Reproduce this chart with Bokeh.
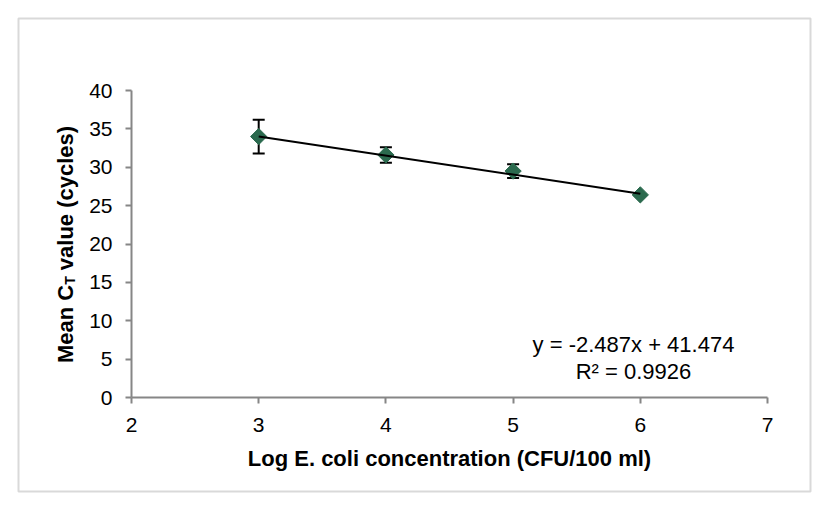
import math
from bokeh.plotting import figure
from bokeh.models import (ColumnDataSource, Range1d, FixedTicker, Whisker, TeeHead,
                          Label, BoxAnnotation)
from bokeh.embed import file_html
from bokeh.resources import INLINE

# Standard curve data: log concentration vs mean CT with standard deviation
log_conc = [3, 4, 5, 6]
mean_ct = [34.0, 31.6, 29.5, 26.4]
sd_ct = [2.2, 1.0, 0.9, 0.1]

# Linear trendline reported for the curve
slope = -2.487
intercept = 41.474
r_squared = 0.9926

x_ticks = [2, 3, 4, 5, 6, 7]
y_ticks = [0, 5, 10, 15, 20, 25, 30, 35, 40]

FONT = "Liberation Sans"
AXIS_GREY = "#868686"
MARKER_GREEN = "#2B6A4E"

W, H = 820, 512
# Pixel geometry of the plotting area inside the canvas
X0_PX, X1_PX = 131, 767      # x = 2 .. 7
Y0_PX, Y1_PX = 397, 90       # y = 0 .. 40
px_per_x = (X1_PX - X0_PX) / (x_ticks[-1] - x_ticks[0])
px_per_y = (Y0_PX - Y1_PX) / (y_ticks[-1] - y_ticks[0])


def dx(px):
    return x_ticks[0] + (px - X0_PX) / px_per_x


def dy(py):
    return y_ticks[0] + (Y0_PX - py) / px_per_y


src = ColumnDataSource(data=dict(
    x=log_conc,
    y=mean_ct,
    upper=[m + s for m, s in zip(mean_ct, sd_ct)],
    lower=[m - s for m, s in zip(mean_ct, sd_ct)],
))

# The frame spans the whole canvas; axes are pinned at x=2 and y=0
p = figure(width=W, height=H, output_backend="svg", toolbar_location=None,
           x_range=Range1d(dx(0), dx(W)), y_range=Range1d(dy(H), dy(0)),
           min_border=0)
p.outline_line_color = None
p.background_fill_color = "white"
p.border_fill_color = "white"
p.xgrid.visible = False
p.ygrid.visible = False

for ax in (p.xaxis[0], p.yaxis[0]):
    ax.axis_line_color = AXIS_GREY
    ax.axis_line_width = 2
    ax.major_tick_line_color = AXIS_GREY
    ax.major_tick_line_width = 2
    ax.major_tick_in = 0
    ax.major_tick_out = 6
    ax.minor_tick_line_color = None
    ax.major_label_text_font = FONT
    ax.major_label_text_font_size = "21px"
    ax.major_label_text_color = "black"

p.xaxis.fixed_location = y_ticks[0]
p.yaxis.fixed_location = x_ticks[0]
p.xaxis.bounds = (x_ticks[0], x_ticks[-1])
p.yaxis.bounds = (y_ticks[0], y_ticks[-1])
p.xaxis.ticker = FixedTicker(ticks=x_ticks)
p.yaxis.ticker = FixedTicker(ticks=y_ticks)
p.xaxis.major_label_standoff = 14
p.yaxis.major_label_standoff = 13

# Error bars
whisk = Whisker(source=src, base="x", upper="upper", lower="lower",
                line_color="black", line_width=2,
                upper_head=TeeHead(size=12, line_color="black", line_width=2),
                lower_head=TeeHead(size=12, line_color="black", line_width=2))
p.add_layout(whisk)

# Data points (square turned 45 degrees)
p.scatter("x", "y", source=src, marker="square", angle=math.pi / 4, size=11.5,
          fill_color=MARKER_GREEN, line_color=MARKER_GREEN)

# Trendline over the measured span
tx = [log_conc[0], log_conc[-1]]
ty = [slope * v + intercept for v in tx]
p.line(tx, ty, line_color="black", line_width=2)

# Trendline equation and R²
sign = "+" if intercept >= 0 else "-"
eq_text = f"y = {slope:.3f}x {sign} {abs(intercept):.3f}"
r2_text = f"R² = {r_squared:.4f}"
p.add_layout(Label(x=dx(633), y=dy(344), text=eq_text, text_align="center",
                   text_baseline="alphabetic", text_font=FONT,
                   text_font_size="22px", text_color="black"))
p.add_layout(Label(x=dx(633), y=dy(371), text=r2_text, text_align="center",
                   text_baseline="alphabetic", text_font=FONT,
                   text_font_size="22px", text_color="black"))

# X-axis title
p.add_layout(Label(x=dx(449), y=dy(458), text="Log E. coli concentration (CFU/100 ml)",
                   text_align="center", text_baseline="alphabetic", text_font=FONT,
                   text_font_style="bold", text_font_size="22px", text_color="black"))

# Rotated y-axis title with subscript T
fs = 22
w_main = 3.556 * fs
w_sub = 0.611 * 14
w_space = 0.278 * fs
w_rest = 6.559 * fs
total = w_main + w_sub + w_space + w_rest
start_sy = 244 + total / 2
lab_kw = dict(angle=math.pi / 2, text_baseline="alphabetic", text_align="left",
              text_font=FONT, text_font_style="bold", text_color="black")
p.add_layout(Label(x=dx(65), y=dy(start_sy), text="Mean C",
                   text_font_size=f"{fs}px", **lab_kw))
p.add_layout(Label(x=dx(69), y=dy(start_sy - w_main), text="T",
                   text_font_size="14px", **lab_kw))
p.add_layout(Label(x=dx(65), y=dy(start_sy - w_main - w_sub - w_space),
                   text="value (cycles)", text_font_size=f"{fs}px", **lab_kw))

# Outer chart border
p.add_layout(BoxAnnotation(left=dx(18), right=dx(810), top=dy(18), bottom=dy(491),
                           fill_alpha=0, line_color="#808080", line_width=2))

open("out.html", "w").write(file_html(p, INLINE))
